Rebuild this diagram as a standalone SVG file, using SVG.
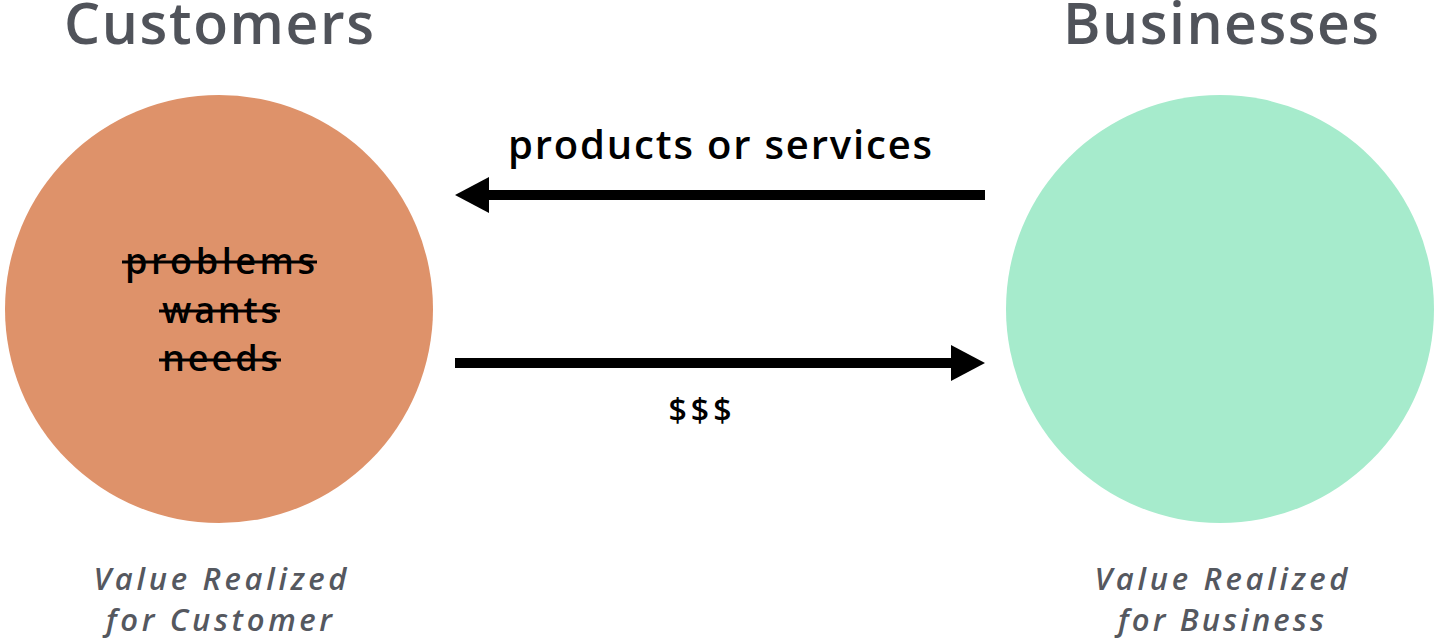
<svg xmlns="http://www.w3.org/2000/svg" width="1440" height="640" viewBox="0 0 1440 640">
<style>
.title{font-family:"Open Sans",Lato,sans-serif;font-size:57px;font-weight:600;fill:#50535a;text-anchor:middle}
.cap{font-family:"Open Sans",Lato,sans-serif;font-size:31px;font-style:italic;font-weight:600;fill:#55585f;text-anchor:middle}
.word{font-family:"Open Sans",Lato,sans-serif;font-size:36px;font-weight:600;fill:#000;text-anchor:middle}
.lbl{font-family:"Open Sans",Lato,sans-serif;font-size:40px;font-weight:600;fill:#000;text-anchor:middle}
.strike{stroke:#000;stroke-width:3}
.conn{stroke:#000;stroke-width:10;fill:none}
</style>
<defs>
<marker id="ah" viewBox="0 0 34 36" refX="0" refY="18" markerWidth="34" markerHeight="36" markerUnits="userSpaceOnUse" orient="auto">
<path d="M0,0 L34,18 L0,36 Z" fill="#000"/>
</marker>
</defs>
<rect width="1440" height="640" fill="#fff"/>
<g id="customers">
<text class="title" x="219" y="44" textLength="310" lengthAdjust="spacing">Customers</text>
<circle cx="219" cy="309" r="214" fill="#de926a"/>
<text class="word" x="220" y="274" textLength="190" lengthAdjust="spacing">problems</text>
<line class="strike" x1="122" y1="262" x2="317" y2="262"/>
<text class="word" x="220" y="323" textLength="116" lengthAdjust="spacing">wants</text>
<line class="strike" x1="159" y1="311" x2="280" y2="311"/>
<text class="word" x="220" y="371" textLength="116" lengthAdjust="spacing">needs</text>
<line class="strike" x1="159" y1="360" x2="281" y2="360"/>
<text class="cap" x="220" y="590" textLength="253" lengthAdjust="spacing">Value Realized</text>
<text class="cap" x="219" y="631" textLength="226" lengthAdjust="spacing">for Customer</text>
</g>
<g id="businesses">
<text class="title" x="1221" y="44" textLength="316" lengthAdjust="spacing">Businesses</text>
<circle cx="1220" cy="309" r="214" fill="#a6ebcc"/>
<text class="cap" x="1221" y="590" textLength="253" lengthAdjust="spacing">Value Realized</text>
<text class="cap" x="1221" y="631" textLength="206" lengthAdjust="spacing">for Business</text>
</g>
<g id="connectors">
<line class="conn" x1="985" y1="195" x2="489" y2="195" marker-end="url(#ah)"/>
<text class="lbl" x="720" y="159" textLength="424" lengthAdjust="spacing">products or services</text>
<line class="conn" x1="455" y1="363" x2="951" y2="363" marker-end="url(#ah)"/>
<text class="lbl" x="700" y="422" style="font-size:32px" textLength="63" lengthAdjust="spacing">$$$</text>
</g>
</svg>
